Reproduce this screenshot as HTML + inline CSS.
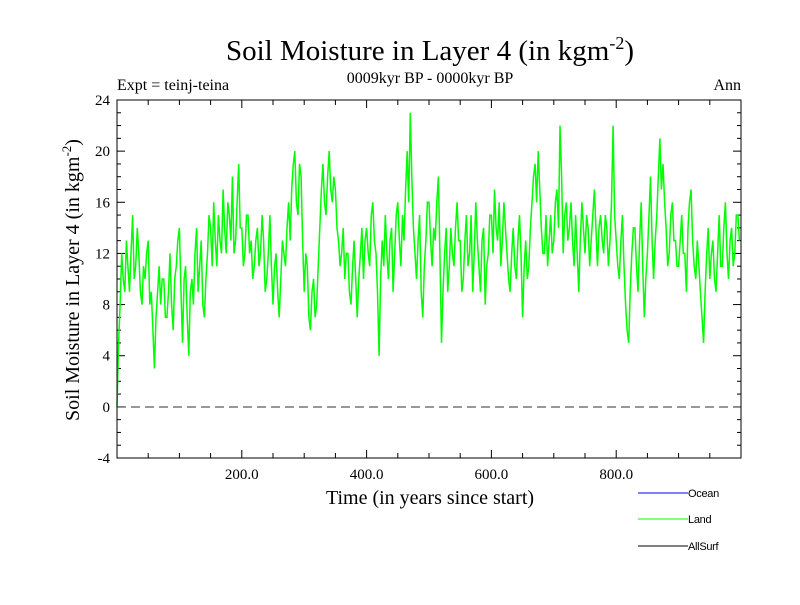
<!DOCTYPE html>
<html><head><meta charset="utf-8"><style>
body{margin:0;background:#fff;}
.serif{font-family:"Liberation Serif",serif;}
.sans{font-family:"Liberation Sans",sans-serif;}
</style></head><body>
<svg id="chart" width="800" height="600" viewBox="0 0 800 600" xmlns="http://www.w3.org/2000/svg">
<g class="serif">
<text x="430" y="60" font-size="29" text-anchor="middle">Soil Moisture in Layer 4 (in kgm<tspan font-size="18" dy="-11">-2</tspan><tspan dy="11">)</tspan></text>
<text x="430" y="83" font-size="16" text-anchor="middle">0009kyr BP - 0000kyr BP</text>
<text x="117" y="90" font-size="16">Expt = teinj-teina</text>
<text x="741" y="90" font-size="16" text-anchor="end">Ann</text>
<text transform="translate(79,280) rotate(-90)" font-size="20" text-anchor="middle">Soil Moisture in Layer 4 (in kgm<tspan font-size="13" dy="-8">-2</tspan><tspan dy="8">)</tspan></text>
<text x="430" y="504" font-size="20" text-anchor="middle">Time (in years since start)</text>
<g id="ticks"></g>
</g>
<line x1="117" x2="741" y1="407" y2="407" stroke="#777" stroke-width="1.5" stroke-dasharray="9,5"/>
<g id="series"></g>
<rect x="117" y="100" width="624" height="358" fill="none" stroke="#000" stroke-width="1"/>
<g class="sans">
<line x1="638" x2="688" y1="493" y2="493" stroke="#0000ff"/>
<text x="688" y="497" font-size="11" letter-spacing="-0.3">Ocean</text>
<line x1="638" x2="688" y1="519" y2="519" stroke="#00ff00"/>
<text x="688" y="523" font-size="11" letter-spacing="-0.3">Land</text>
<line x1="638" x2="688" y1="546" y2="546" stroke="#000"/>
<text x="688" y="550" font-size="11" letter-spacing="-0.3">AllSurf</text>
</g>
</svg>
<script>
const yTickValues=[-4,0,4,8,12,16,20,24];
const xTickValues=[200,400,600,800];
const xTickLabels=["200.0","400.0","600.0","800.0"];
const landStepYears=2.5;
const landValues=[0,5,8,12,10,9,13,11,9,12,15,10,11,14,12,9,8,11,10,12,13,8,9,6,3,7,9,11,8,10,10,7,7,9,12,8,6,10,11,13,
14,9,5,10,11,7,4,9,10,8,12,14,9,11,13,8,7,10,12,15,14,11,16,13,11,15,13,12,17,14,12,16,15,13,18,12,13,16,19,14,
14,11,12,15,15,12,13,10,11,13,14,11,12,15,13,9,10,12,15,11,8,11,12,9,7,10,13,12,11,14,16,13,17,19,20,16,15,19,18,13,
9,12,11,7,6,9,10,7,8,11,14,17,19,16,15,18,20,17,16,18,17,14,13,11,12,14,10,12,12,9,8,11,13,10,7,10,12,14,10,13,
14,12,11,15,16,13,12,9,4,10,13,11,15,12,10,13,14,9,12,15,16,13,11,15,13,17,20,16,23,18,14,12,10,13,15,9,7,11,13,16,
16,13,11,14,13,16,18,12,5,9,12,14,9,11,14,12,11,14,16,13,13,9,10,13,15,11,12,15,9,12,16,13,11,9,13,14,8,11,12,15,
15,12,17,14,13,16,11,13,16,14,12,10,9,12,14,11,10,13,15,12,7,11,13,10,11,14,16,18,19,16,20,17,14,12,12,15,11,13,15,12,
13,16,17,14,22,18,12,15,16,13,14,16,13,11,15,12,9,13,16,14,12,15,14,11,13,15,17,14,11,14,15,13,12,15,14,11,13,16,22,15,
13,11,10,13,15,11,8,6,5,9,12,14,14,11,9,13,16,11,7,10,12,15,18,13,10,13,15,18,21,17,19,16,14,11,12,15,16,13,13,11,
11,13,15,12,12,9,14,16,17,13,11,10,13,11,9,7,5,9,12,14,10,12,13,10,9,12,15,11,11,14,16,12,10,13,14,11,12,15,15,13];
const NS="http://www.w3.org/2000/svg";
const X0=117,X1=741,Y0=458,Y1=100;
function xs(v){return X0+(v-0)/(1000-0)*(X1-X0);}
function ys(v){return Y0-(v+4)/(28)*(Y0-Y1);}
const tg=document.getElementById('ticks');
function ln(x1,y1,x2,y2){const l=document.createElementNS(NS,'line');l.setAttribute('x1',x1);l.setAttribute('y1',y1);l.setAttribute('x2',x2);l.setAttribute('y2',y2);l.setAttribute('stroke','#000');


tg.appendChild(l);}
for(let v=-4;v<=24;v++){const y=ys(v);const L=(v%4===0)?8:4;ln(X0,y,X0+L,y);ln(X1,y,X1-L,y);}
for(let v=50;v<1000;v+=50){const x=xs(v);const L=(v%200===0)?8:5;ln(x,Y0,x,Y0-L);ln(x,Y1,x,Y1+L);}
yTickValues.forEach(v=>{const t=document.createElementNS(NS,'text');t.setAttribute('x',110);t.setAttribute('y',ys(v)+5);t.setAttribute('font-size','15');t.setAttribute('text-anchor','end');t.textContent=v;


tg.appendChild(t);});
xTickValues.forEach((v,i)=>{const t=document.createElementNS(NS,'text');t.setAttribute('x',xs(v));t.setAttribute('y',479);t.setAttribute('font-size','15');t.setAttribute('text-anchor','middle');t.textContent=xTickLabels[i];


tg.appendChild(t);});
const p=document.createElementNS(NS,'polyline');
p.setAttribute('points',landValues.map((v,i)=>xs(i*landStepYears).toFixed(1)+','+ys(v).toFixed(1)).join(' '));
p.setAttribute('fill','none');p.setAttribute('stroke','#00ff00');p.setAttribute('stroke-width','1.5');


document.getElementById('series').appendChild(p);
</script>
</body></html>
